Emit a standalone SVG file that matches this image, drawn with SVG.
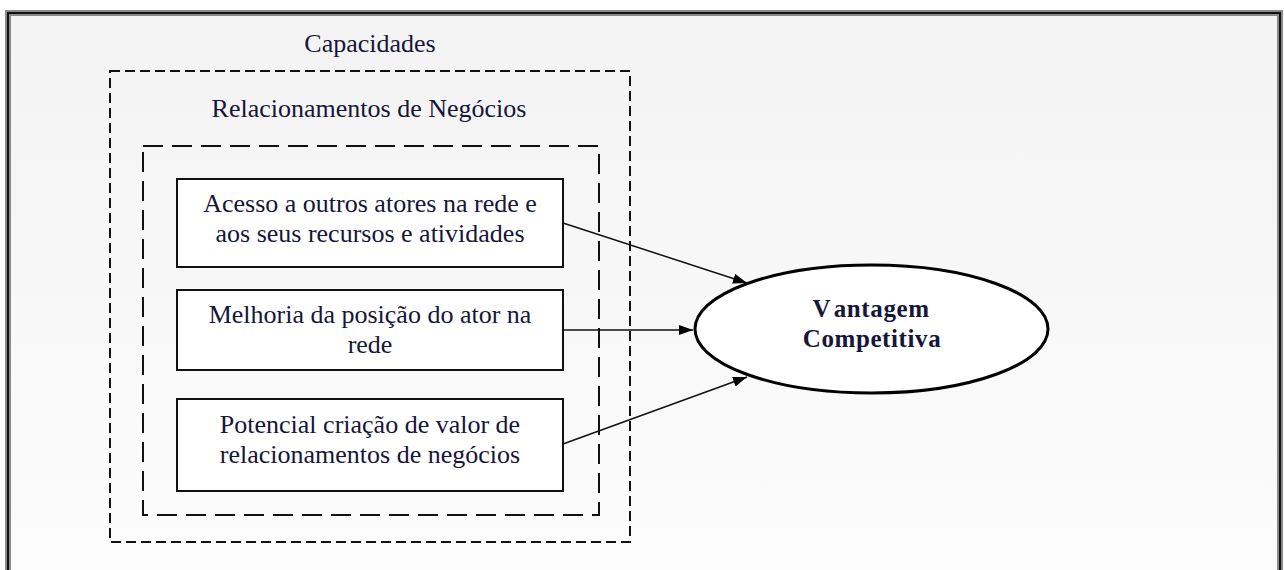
<svg xmlns="http://www.w3.org/2000/svg" width="1284" height="570" viewBox="0 0 1284 570">
  <defs>
    <linearGradient id="bg" x1="0" y1="0" x2="0" y2="1">
      <stop offset="0" stop-color="#f3f3f3"/>
      <stop offset="1" stop-color="#fcfcfc"/>
    </linearGradient>
    <marker id="arrow" viewBox="0 0 14 10" refX="14" refY="5" markerWidth="14" markerHeight="10" markerUnits="userSpaceOnUse" orient="auto">
      <path d="M0,0 L14,5 L0,10 Z" fill="#000"/>
    </marker>
  </defs>
  <style>
    .t { font-family: "Liberation Serif", "Times New Roman", serif; font-size: 26px; fill: #16163a; text-anchor: middle; }
    .b { font-family: "Liberation Serif", "Times New Roman", serif; font-size: 25px; font-weight: bold; fill: #16163a; text-anchor: middle; letter-spacing: 0.6px; }
    .box { fill: #fff; stroke: #111; stroke-width: 2; }
    .dash1 { fill: none; stroke: #111; stroke-width: 2; stroke-dasharray: 10 5; }
    .dash2 { fill: none; stroke: #111; stroke-width: 2; stroke-dasharray: 20 9; }
    .conn { stroke: #111; stroke-width: 1.5; fill: none; }
  </style>
  <rect x="0" y="0" width="1284" height="570" fill="#fff"/>
  <g id="frame">
    <rect x="8" y="13" width="1272" height="560" fill="url(#bg)"/>
    <path d="M8,575 L8,13 L1280,13 L1280,575" fill="none" stroke="#8a8a8a" stroke-width="6"/>
    <path d="M8,575 L8,13 L1280,13 L1280,575" fill="none" stroke="#111" stroke-width="2"/>
  </g>
  <g id="capacidades">
    <rect class="dash1" x="110" y="71" width="520" height="471"/>
    <text class="t" x="370" y="52">Capacidades</text>
  </g>
  <g id="relacionamentos">
    <rect class="dash2" x="143" y="146" width="456" height="369"/>
    <text class="t" x="369" y="117">Relacionamentos de Negócios</text>
  </g>
  <g id="node-acesso">
    <rect class="box" x="177" y="179" width="386" height="88"/>
    <text class="t" x="370" y="212">Acesso a outros atores na rede e</text>
    <text class="t" x="370" y="242">aos seus recursos e atividades</text>
  </g>
  <g id="node-melhoria">
    <rect class="box" x="177" y="290" width="386" height="80"/>
    <text class="t" x="370" y="323">Melhoria da posição do ator na</text>
    <text class="t" x="370" y="353">rede</text>
  </g>
  <g id="node-potencial">
    <rect class="box" x="177" y="399" width="386" height="92"/>
    <text class="t" x="370" y="433">Potencial criação de valor de</text>
    <text class="t" x="370" y="463">relacionamentos de negócios</text>
  </g>
  <g id="node-vantagem">
    <ellipse cx="871.5" cy="329" rx="176.5" ry="64" fill="#fff" stroke="#000" stroke-width="3"/>
    <text class="b" x="871" y="317">V<tspan dx="5">antagem</tspan></text>
    <text class="b" x="872" y="347">Competitiva</text>
  </g>
  <g id="connectors">
    <line class="conn" x1="563" y1="223" x2="747" y2="283" marker-end="url(#arrow)"/>
    <line class="conn" x1="563" y1="330" x2="693" y2="330" marker-end="url(#arrow)"/>
    <line class="conn" x1="563" y1="444" x2="747" y2="377" marker-end="url(#arrow)"/>
  </g>
</svg>
